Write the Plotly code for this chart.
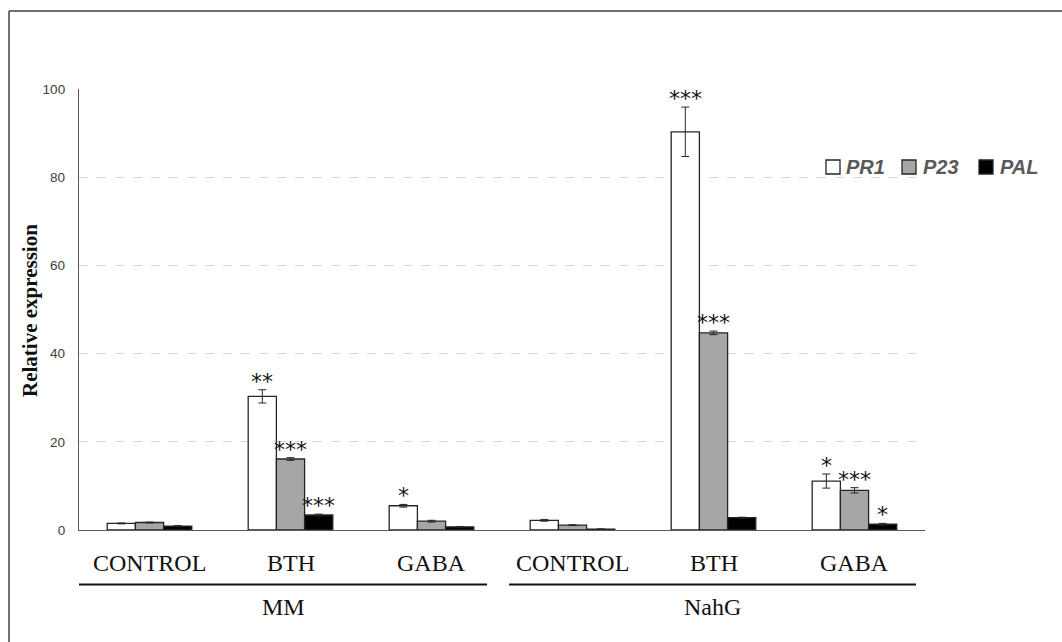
import plotly.graph_objects as go

# Treatments per genotype, genotypes, and genes
treatments = ["CONTROL", "BTH", "GABA", "CONTROL", "BTH", "GABA"]
genotypes = ["MM", "NahG"]
genes = ["PR1", "P23", "PAL"]

# Mean relative expression per treatment (MM: 0-2, NahG: 3-5)
pr1_mean = [1.5, 30.3, 5.5, 2.2, 90.3, 11.1]
p23_mean = [1.7, 16.1, 2.0, 1.1, 44.7, 9.0]
pal_mean = [0.9, 3.4, 0.7, 0.2, 2.8, 1.3]

pr1_err = [0.1, 1.5, 0.3, 0.2, 5.6, 1.6]
p23_err = [0.1, 0.3, 0.2, 0.1, 0.4, 0.6]
pal_err = [0.1, 0.2, 0.1, 0.05, 0.1, 0.2]

# Significance marks above each bar
pr1_sig = ["", "**", "*", "", "***", "*"]
p23_sig = ["", "***", "", "", "***", "***"]
pal_sig = ["", "***", "", "", "", "*"]

yticks = [0, 20, 40, 60, 80, 100]

W, H = 1062, 642
L, R, T, B = 79, 137, 89, 112
PW, PH = W - L - R, H - T - B


def px(xp):
    """Horizontal pixel -> paper fraction."""
    return (xp - L) / PW


def py(yp):
    """Vertical pixel -> paper fraction."""
    return (H - B - yp) / PH


x = list(range(len(treatments)))
fills = ["#ffffff", "#a6a6a6", "#000000"]
means = [pr1_mean, p23_mean, pal_mean]
errs = [pr1_err, p23_err, pal_err]
sigs = [pr1_sig, p23_sig, pal_sig]
edge = "#262626"

fig = go.Figure()
for gene, fill, m, e in zip(genes, fills, means, errs):
    fig.add_trace(go.Bar(
        x=x, y=m, name=gene, showlegend=False,
        marker=dict(color=fill, line=dict(color=edge, width=1.3)),
        error_y=dict(type="data", array=e, visible=True, color=edge,
                     thickness=1, width=4),
    ))

annotations = []
shapes = []

# Significance asterisks above the error bars
offsets = [-0.2, 0.0, 0.2]
for off, m, e, s in zip(offsets, means, errs, sigs):
    for i in x:
        if s[i]:
            annotations.append(dict(
                x=i + off, y=m[i] + e[i], xref="x", yref="y",
                text=s[i], showarrow=False, yanchor="bottom", yshift=-6,
                font=dict(family="DejaVu Sans", size=22, color="#111111"),
            ))

# Treatment labels under the axis
for i, t in enumerate(treatments):
    annotations.append(dict(
        x=i, y=py(563), xref="x", yref="paper", text=t, showarrow=False,
        yanchor="middle", font=dict(family="Liberation Serif", size=24, color="#111111"),
    ))

# Genotype labels with bracket lines
group_spans = [(-0.5, 2.394), (2.55, 5.436)]
for g, (a, b) in zip(genotypes, group_spans):
    shapes.append(dict(type="line", xref="x", yref="paper", x0=a, x1=b,
                       y0=py(584.5), y1=py(584.5), line=dict(color="#111111", width=2)))
    annotations.append(dict(
        x=(a + b) / 2, y=py(607), xref="x", yref="paper", text=g, showarrow=False,
        yanchor="middle", font=dict(family="Liberation Serif", size=24, color="#111111"),
    ))

# Y-axis title
annotations.append(dict(
    x=px(30), y=py(311), xref="paper", yref="paper", text="<b>Relative expression</b>",
    textangle=-90, showarrow=False, xanchor="center", yanchor="middle",
    font=dict(family="Liberation Serif", size=21, color="#111111"),
))

# Legend: swatch + bold italic gene name
legend_items = [(826, 844), (902, 921), (979, 998)]
for gene, fill, (sx, tx) in zip(genes, fills, legend_items):
    shapes.append(dict(type="rect", xref="paper", yref="paper",
                       x0=px(sx), x1=px(sx + 14), y0=py(174), y1=py(160),
                       fillcolor=fill, line=dict(color=edge, width=1.3)))
    annotations.append(dict(
        x=px(tx), y=py(167), xref="paper", yref="paper", text=f"<b><i>{gene}</i></b>",
        showarrow=False, xanchor="left", yanchor="middle",
        font=dict(family="Liberation Sans", size=20, color="#595959"),
    ))

# Outer frame (left and top edges)
shapes.append(dict(type="line", xref="paper", yref="paper", x0=px(9), x1=px(1070),
                   y0=py(11), y1=py(11), line=dict(color="#404040", width=1.5)))
shapes.append(dict(type="line", xref="paper", yref="paper", x0=px(9), x1=px(9),
                   y0=py(11), y1=py(650), line=dict(color="#404040", width=1.5)))

fig.update_layout(
    width=W, height=H,
    margin=dict(l=L, r=R, t=T, b=B, autoexpand=False),
    paper_bgcolor="white", plot_bgcolor="white",
    barmode="group", bargap=0.4, bargroupgap=0,
    showlegend=False,
    annotations=annotations,
    shapes=shapes,
    xaxis=dict(range=[-0.5, 5.5], showticklabels=False, ticks="",
               showgrid=False, showline=True, linecolor="#595959", linewidth=1.3,
               zeroline=False),
    yaxis=dict(range=[0, 100], tickvals=yticks, ticks="", showgrid=True,
               gridcolor="#d9d9d9", griddash="dash", gridwidth=1,
               showline=True, linecolor="#595959", linewidth=1.3, zeroline=False,
               tickfont=dict(family="Liberation Sans", size=13.5, color="#404040"),
               ticklabelstandoff=10),
)

fig.write_html("out.html")
